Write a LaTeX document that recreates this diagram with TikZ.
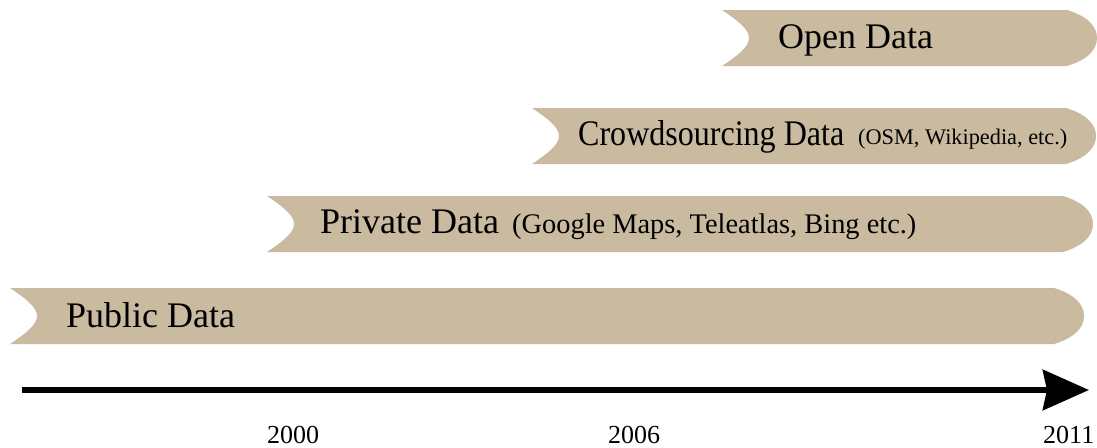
\documentclass[tikz,border=0pt]{standalone}
\usepackage{fontspec}
\setmainfont{Liberation Serif}
\newfontfamily\narrowserif[FakeStretch=0.89]{Liberation Serif}
\usetikzlibrary{arrows.meta}
\definecolor{bandtan}{RGB}{202,186,160}
\begin{document}
\begin{tikzpicture}[x=1pt,y=-1pt,
	band/.style={fill=bandtan},
	title/.style={anchor=base west,inner sep=0,font=\fontsize{36}{40}\selectfont},
	note/.style={anchor=base west,inner sep=0},
	year/.style={anchor=base west,inner sep=0,font=\fontsize{26}{30}\selectfont},
	timeline/.style={line width=6.5pt,-{Stealth[length=46pt,width=40pt,inset=4pt]}}]
\useasboundingbox (0,0) rectangle (1097,447);
% bands: left x / tip x / top y
\foreach \xl/\xr/\yt in {722/1097/10,532/1096/108,267/1093/196,10/1084/288}
	\fill[band] (\xl,\yt) -- ({\xr-30},\yt)
		.. controls ({\xr-10},{\yt+6}) and (\xr,{\yt+16}) .. (\xr,{\yt+28})
		.. controls (\xr,{\yt+40}) and ({\xr-10},{\yt+50}) .. ({\xr-30},{\yt+56})
		-- (\xl,{\yt+56})
		.. controls ({\xl+18},{\yt+44}) and ({\xl+27},{\yt+36}) .. ({\xl+27},{\yt+28})
		.. controls ({\xl+27},{\yt+20}) and ({\xl+18},{\yt+12}) .. cycle;
\node[title] (open) at (778,48) {Open Data};
\node[title,font=\fontsize{36}{40}\narrowserif] (crowd) at (578,145) {Crowdsourcing Data};
\node[note,font=\fontsize{22.3}{26}\selectfont] (crowdnote) at (858,144) {(OSM, Wikipedia, etc.)};
\node[title] (private) at (320,233) {Private Data};
\node[note,font=\fontsize{28.4}{32}\selectfont] (privatenote) at (512,233) {(Google Maps, Teleatlas, Bing etc.)};
\node[title] (public) at (66,327) {Public Data};
% time axis
\coordinate (tstart) at (22,390);
\coordinate (tend) at (1089,390);
\draw[timeline] (tstart) -- (tend);
\node[year] (y2000) at (267,443) {2000};
\node[year] (y2006) at (608,443) {2006};
\node[year] (y2011) at (1043,443) {2011};
\end{tikzpicture}
\end{document}
